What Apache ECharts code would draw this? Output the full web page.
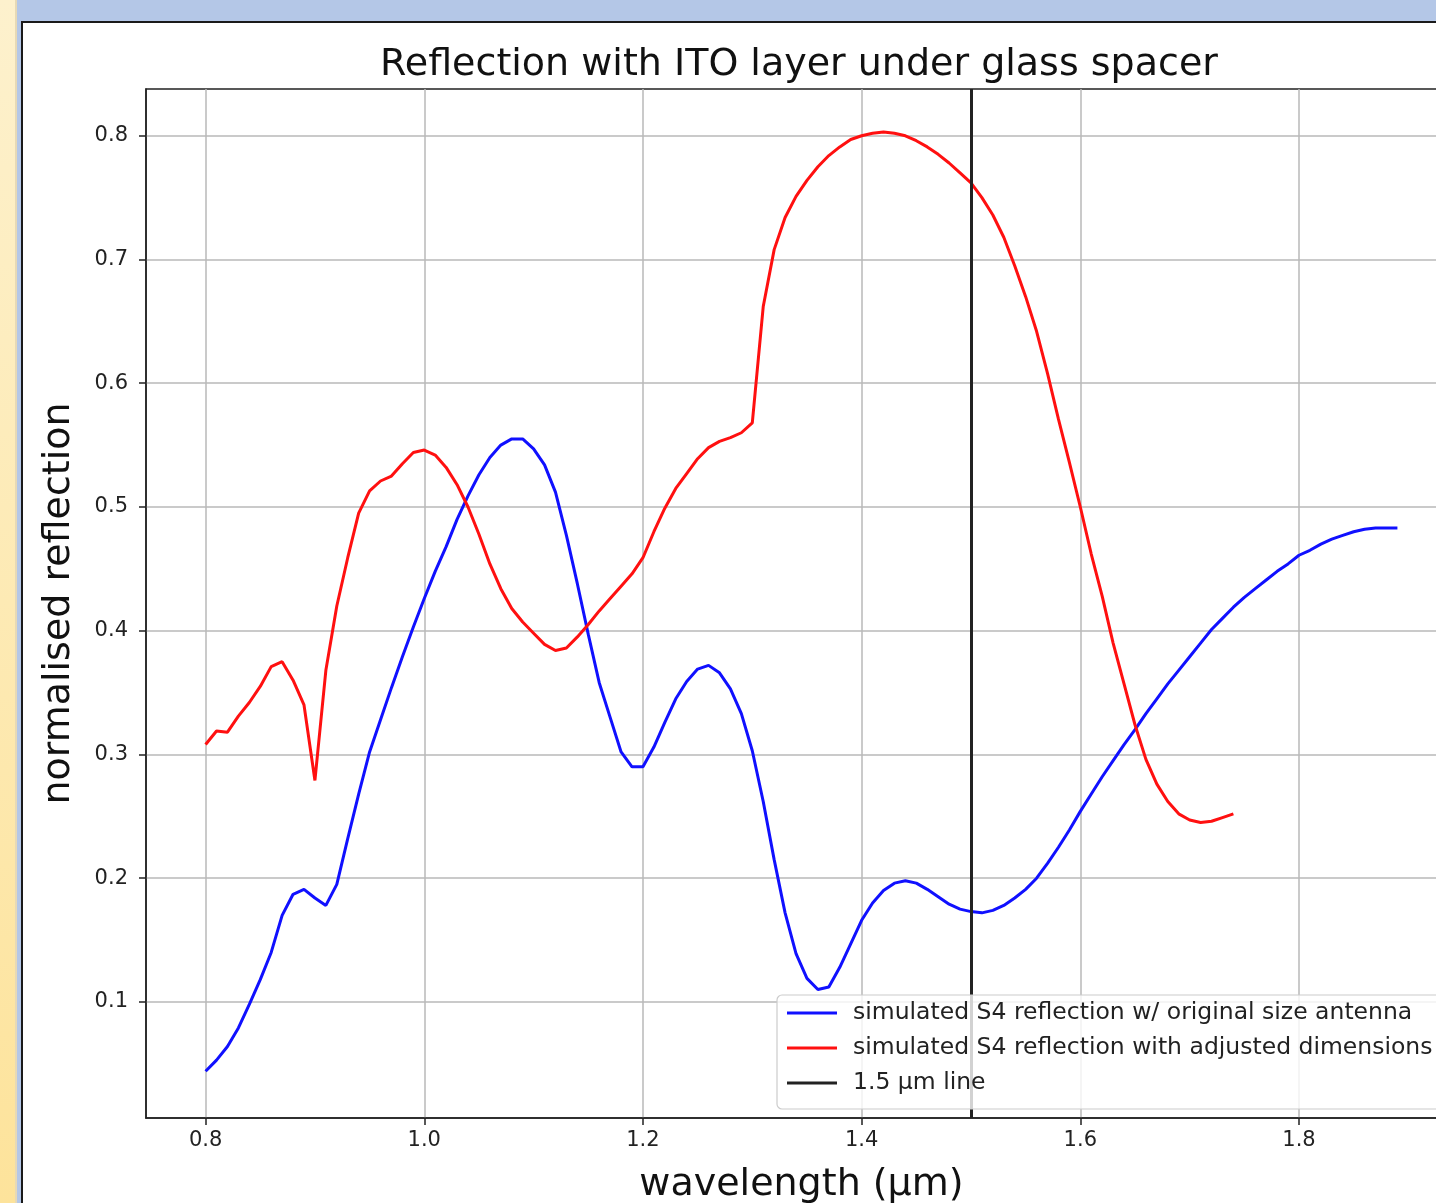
<!DOCTYPE html>
<html>
<head>
<meta charset="utf-8">
<script src="https://cdn.jsdelivr.net/npm/echarts@6/dist/echarts.min.js"></script>
<style>
html,body{margin:0;padding:0;background:#fff;overflow:hidden;}
#chart{width:1436px;height:1203px;}
</style>
</head>
<body>
<div id="chart"></div>
<script>
const blueWavelengths = [0.80,0.81,0.82,0.83,0.84,0.85,0.86,0.87,0.88,0.89,0.90,0.91,0.92,0.93,0.94,0.95,0.96,0.97,0.98,0.99,
1.00,1.01,1.02,1.03,1.04,1.05,1.06,1.07,1.08,1.09,1.10,1.11,1.12,1.13,1.14,1.15,1.16,1.17,1.18,1.19,
1.20,1.21,1.22,1.23,1.24,1.25,1.26,1.27,1.28,1.29,1.30,1.31,1.32,1.33,1.34,1.35,1.36,1.37,1.38,1.39,
1.40,1.41,1.42,1.43,1.44,1.45,1.46,1.47,1.48,1.49,1.50,1.51,1.52,1.53,1.54,1.55,1.56,1.57,1.58,1.59,
1.60,1.61,1.62,1.63,1.64,1.65,1.66,1.67,1.68,1.69,1.70,1.71,1.72,1.73,1.74,1.75,1.76,1.77,1.78,1.79,
1.80,1.81,1.82,1.83,1.84,1.85,1.86,1.87,1.88,1.89];
const blueReflection = [0.044,0.053,0.064,0.079,0.098,0.118,0.140,0.170,0.187,0.191,0.184,0.178,0.195,0.232,0.268,0.302,0.328,0.354,0.379,0.403,
0.426,0.448,0.468,0.490,0.509,0.526,0.540,0.550,0.555,0.555,0.547,0.534,0.512,0.477,0.438,0.397,0.358,0.330,0.302,0.290,
0.290,0.306,0.326,0.345,0.359,0.369,0.372,0.366,0.353,0.333,0.303,0.262,0.215,0.172,0.139,0.119,0.110,0.112,0.128,0.147,
0.166,0.180,0.190,0.196,0.198,0.196,0.191,0.185,0.179,0.175,0.173,0.172,0.174,0.178,0.184,0.191,0.200,0.212,0.225,0.239,
0.254,0.268,0.282,0.295,0.308,0.320,0.333,0.345,0.357,0.368,0.379,0.390,0.401,0.410,0.419,0.427,0.434,0.441,0.448,0.454,
0.461,0.465,0.470,0.474,0.477,0.480,0.482,0.483,0.483,0.483];

const redWavelengths = [0.80,0.81,0.82,0.83,0.84,0.85,0.86,0.87,0.88,0.89,0.90,0.91,0.92,0.93,0.94,0.95,0.96,0.97,0.98,0.99,
1.00,1.01,1.02,1.03,1.04,1.05,1.06,1.07,1.08,1.09,1.10,1.11,1.12,1.13,1.14,1.15,1.16,1.17,1.18,1.19,
1.20,1.21,1.22,1.23,1.24,1.25,1.26,1.27,1.28,1.29,1.30,1.31,1.32,1.33,1.34,1.35,1.36,1.37,1.38,1.39,
1.40,1.41,1.42,1.43,1.44,1.45,1.46,1.47,1.48,1.49,1.50,1.51,1.52,1.53,1.54,1.55,1.56,1.57,1.58,1.59,
1.60,1.61,1.62,1.63,1.64,1.65,1.66,1.67,1.68,1.69,1.70,1.71,1.72,1.73,1.74];
const redReflection = [0.308,0.319,0.318,0.331,0.342,0.355,0.371,0.375,0.360,0.340,0.279,0.368,0.420,0.459,0.495,0.513,0.521,0.525,0.535,0.544,
0.546,0.542,0.532,0.518,0.500,0.478,0.454,0.434,0.418,0.407,0.398,0.389,0.384,0.386,0.395,0.405,0.416,0.426,0.436,0.446,
0.459,0.480,0.499,0.515,0.527,0.539,0.548,0.553,0.556,0.560,0.568,0.662,0.708,0.734,0.751,0.764,0.775,0.784,0.791,0.797,
0.800,0.802,0.803,0.802,0.800,0.796,0.791,0.785,0.778,0.770,0.762,0.750,0.736,0.718,0.695,0.670,0.642,0.608,0.571,0.536,
0.500,0.462,0.428,0.390,0.357,0.324,0.296,0.276,0.262,0.252,0.247,0.245,0.246,0.249,0.252];

const markerWavelength = 1.5;
const xTicks = [0.8,1.0,1.2,1.4,1.6,1.8];
const yTicks = [0.1,0.2,0.3,0.4,0.5,0.6,0.7,0.8];
const seriesNames = ['simulated S4 reflection w/ original size antenna','simulated S4 reflection with adjusted dimensions','1.5 µm line'];
const chartTitle = 'Reflection with ITO layer under glass spacer';
const xName = 'wavelength (µm)';
const yName = 'normalised reflection';

const FONT = '"DejaVu Sans", sans-serif';
const chart = echarts.init(document.getElementById('chart'), null, {renderer:'canvas'});
const pairs = (xs, ys) => xs.map((x,i)=>[x, ys[i]]);

chart.setOption({
  animation:false,
  backgroundColor:'#ffffff',
  title:{
    text:chartTitle, left:794, top:41, textAlign:'center',
    textStyle:{fontFamily:FONT, fontSize:38, fontWeight:'normal', color:'#111'}
  },
  graphic:[
    {type:'rect', shape:{x:0,y:0,width:1436,height:22}, style:{fill:'#b4c7e7'}, z:100},
    {type:'rect', shape:{x:21,y:21,width:1415,height:2}, style:{fill:'#1a1a1a'}, z:101},
    {type:'rect', shape:{x:0,y:0,width:15,height:1203}, style:{fill:new echarts.graphic.LinearGradient(0,0,0,1,[{offset:0,color:'#fdf1cd'},{offset:1,color:'#fde39b'}])}, z:100},
    {type:'rect', shape:{x:15,y:0,width:2,height:1203}, style:{fill:'#e6d9b6'}, z:100},
    {type:'rect', shape:{x:17,y:0,width:4,height:1203}, style:{fill:'#b4c7e7'}, z:100},
    {type:'rect', shape:{x:21,y:21,width:2,height:1182}, style:{fill:'#1a1a1a'}, z:101}
  ],
  grid:{left:146, top:89, width:1311, height:1029, outerBoundsMode:'none', containLabel:false,
        show:true, borderColor:'#222', borderWidth:1.5, backgroundColor:'transparent'},
  legend:{
    orient:'vertical', left:777, top:995, z:10,
    data:seriesNames,
    icon:'rect', itemWidth:50, itemHeight:3, itemGap:11,
    padding:[6,12,14,10],
    backgroundColor:'rgba(255,255,255,0.8)', borderColor:'#cccccc', borderWidth:1.2, borderRadius:5,
    textStyle:{fontFamily:FONT, fontSize:23.5, color:'#222', padding:[0,0,0,11], lineHeight:24}
  },
  xAxis:{
    type:'value', min:0.7455, max:1.9445,
    name:xName, nameLocation:'middle', nameGap:48,
    nameTextStyle:{fontFamily:FONT, fontSize:38, color:'#111'},
    axisLine:{show:true, onZero:false, lineStyle:{color:'#222', width:1.5}},
    axisTick:{show:true, length:7, customValues:xTicks, lineStyle:{color:'#222', width:1.5}},
    axisLabel:{customValues:xTicks, formatter:v=>Number(v).toFixed(1), fontFamily:FONT, fontSize:21, color:'#222', margin:12},
    splitLine:{show:true, lineStyle:{color:'#b8b8b8', width:1.5}}
  },
  yAxis:{
    type:'value', min:0.0062, max:0.8378,
    name:yName, nameLocation:'middle', nameGap:68, nameRotate:90,
    nameTextStyle:{fontFamily:FONT, fontSize:38, color:'#111'},
    axisLine:{show:true, onZero:false, lineStyle:{color:'#222', width:1.5}},
    axisTick:{show:true, length:7, customValues:yTicks, lineStyle:{color:'#222', width:1.5}},
    axisLabel:{customValues:yTicks, formatter:v=>Number(v).toFixed(1), fontFamily:FONT, fontSize:21, color:'#222', margin:18},
    splitLine:{show:true, lineStyle:{color:'#b8b8b8', width:1.5}}
  },
  series:[
    {name:seriesNames[0], type:'line', data:pairs(blueWavelengths, blueReflection), showSymbol:false, symbol:'none',
     lineStyle:{color:'#1010ff', width:3}, itemStyle:{color:'#1010ff'}, z:3},
    {name:seriesNames[1], type:'line', data:pairs(redWavelengths, redReflection), showSymbol:false, symbol:'none',
     lineStyle:{color:'#ff1010', width:3}, itemStyle:{color:'#ff1010'}, z:3},
    {name:seriesNames[2], type:'line', data:[], symbol:'none',
     lineStyle:{color:'#222', width:3}, itemStyle:{color:'#222'},
     markLine:{silent:true, symbol:['none','none'], label:{show:false},
       lineStyle:{color:'#222', width:3, type:'solid'}, data:[{xAxis:markerWavelength}]}, z:4}
  ]
});
</script>
</body>
</html>
